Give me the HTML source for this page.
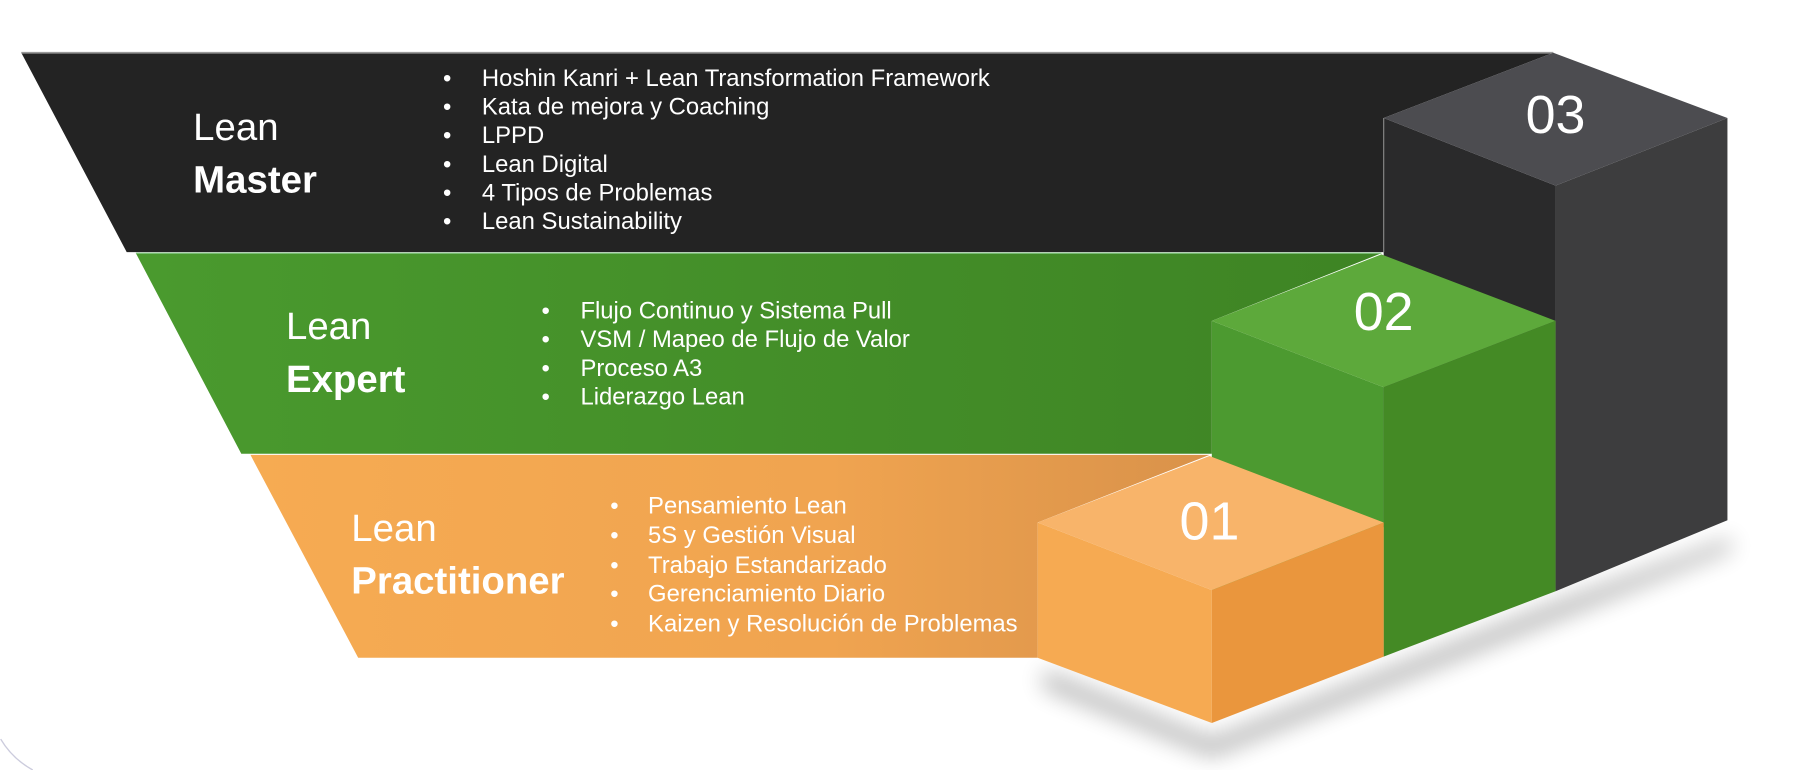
<!DOCTYPE html>
<html><head><meta charset="utf-8"><style>
html,body{margin:0;padding:0;background:#fff;}
svg{display:block;}
text{font-family:"Liberation Sans",Arial,sans-serif;fill:#fff;}
</style></head><body>
<svg width="1798" height="770" viewBox="0 0 1568 672" xmlns="http://www.w3.org/2000/svg">
<defs>
<linearGradient id="gG" x1="0" x2="1"><stop offset="0" stop-color="#4a9a2e"/><stop offset="1" stop-color="#3e8424"/></linearGradient>
<linearGradient id="gO" x1="0" x2="1"><stop offset="0" stop-color="#f6ab52"/><stop offset="0.6" stop-color="#f0a450"/><stop offset="1" stop-color="#d9924a"/></linearGradient>
<filter id="sh" x="-20%" y="-50%" width="140%" height="200%"><feGaussianBlur stdDeviation="10"/></filter>
</defs>
<path d="M0,645 Q10,662 28,672" stroke="#ccd" fill="none" stroke-width="1.2"/>
<!-- shadows -->
<polygon points="910,585 1057,645 1360,525 1510,470 1510,480 1360,540 1057,660 910,600" fill="#000" opacity="0.3" filter="url(#sh)"/>
<!-- black band -->
<polygon points="18,46 1355,46 1207,103 1207,220 110,220" fill="#232323"/>
<line x1="18" y1="46" x2="1355" y2="46" stroke="#999" stroke-width="1.5"/>
<!-- cube 03 -->
<polygon points="1207,103 1357,162 1357,513 1207,460" fill="#2a2a2b"/>
<polygon points="1357,162 1507,103 1507,454 1357,516" fill="#3d3d3e"/>
<polygon points="1207,103 1355,46 1507,103 1357,162" fill="#4c4c50"/>
<line x1="1207" y1="103" x2="1207" y2="220" stroke="#888" stroke-width="1"/>
<text x="1357" y="116" font-size="47" text-anchor="middle">03</text>
<!-- green band -->
<polygon points="118,221 1205,221 1057,280 1057,396 210,396" fill="url(#gG)"/>
<line x1="118" y1="221" x2="1205" y2="221" stroke="#8c8" stroke-width="1"/>
<!-- cube 02 -->
<polygon points="1057,280 1207,338 1207,573 1057,515" fill="#4c9a30"/>
<polygon points="1207,338 1357,280 1357,516 1207,573" fill="#448a25"/>
<polygon points="1057,280 1205,222 1357,280 1207,338" fill="#5da93b"/>
<text x="1207" y="288" font-size="47" text-anchor="middle">02</text>
<!-- orange band -->
<polygon points="218,397 1055,397 905,456 905,574 312,574" fill="url(#gO)"/>
<!-- cube 01 -->
<polygon points="905,456 1057,515 1057,631 905,574" fill="#f6aa52"/>
<polygon points="1057,515 1207,456 1207,573 1057,631" fill="#ea963d"/>
<polygon points="905,456 1055,398 1207,456 1057,515" fill="#f8b46a"/>
<text x="1055" y="471" font-size="47" text-anchor="middle">01</text>
<!-- master text -->
<text x="168" y="122" font-size="33.5">Lean</text>
<text x="168" y="168" font-size="33.5" font-weight="bold">Master</text>
<g font-size="20.8">
<text x="386" y="75">•</text><text x="420" y="75">Hoshin Kanri + Lean Transformation Framework</text>
<text x="386" y="100">•</text><text x="420" y="100">Kata de mejora y Coaching</text>
<text x="386" y="125">•</text><text x="420" y="125">LPPD</text>
<text x="386" y="150">•</text><text x="420" y="150">Lean Digital</text>
<text x="386" y="175">•</text><text x="420" y="175">4 Tipos de Problemas</text>
<text x="386" y="200">•</text><text x="420" y="200">Lean Sustainability</text>
</g>
<text x="249" y="296" font-size="33.5">Lean</text>
<text x="249" y="342" font-size="33.5" font-weight="bold">Expert</text>
<g font-size="20.8">
<text x="472" y="278">•</text><text x="506" y="278">Flujo Continuo y Sistema Pull</text>
<text x="472" y="303">•</text><text x="506" y="303">VSM / Mapeo de Flujo de Valor</text>
<text x="472" y="328">•</text><text x="506" y="328">Proceso A3</text>
<text x="472" y="353">•</text><text x="506" y="353">Liderazgo Lean</text>
</g>
<text x="306" y="472" font-size="33.5">Lean</text>
<text x="306" y="518" font-size="33.5" font-weight="bold">Practitioner</text>
<g font-size="20.8">
<text x="532" y="448">•</text><text x="565" y="448">Pensamiento Lean</text>
<text x="532" y="474">•</text><text x="565" y="474">5S y Gestión Visual</text>
<text x="532" y="500">•</text><text x="565" y="500">Trabajo Estandarizado</text>
<text x="532" y="525">•</text><text x="565" y="525">Gerenciamiento Diario</text>
<text x="532" y="551">•</text><text x="565" y="551">Kaizen y Resolución de Problemas</text>
</g>
</svg>
</body></html>
